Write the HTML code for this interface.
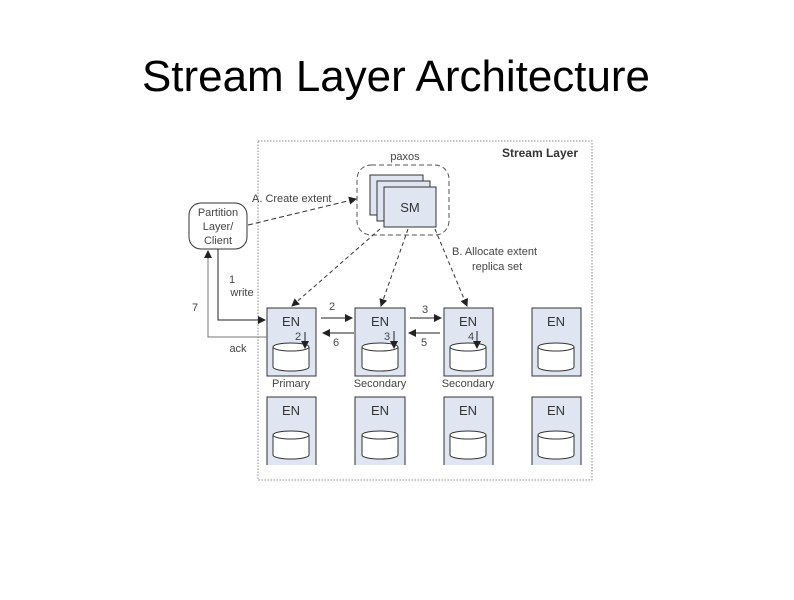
<!DOCTYPE html>
<html><head><style>body{margin:0;background:#fff;width:794px;height:595px;overflow:hidden}</style></head><body>
<svg width="794" height="595" viewBox="0 0 794 595" xmlns="http://www.w3.org/2000/svg" font-family="Liberation Sans, sans-serif">
<defs>
<marker id="a" markerWidth="8" markerHeight="8" refX="7" refY="4" orient="auto" markerUnits="userSpaceOnUse"><path d="M0,0 L8,4 L0,8 z" fill="#222"/></marker>
<g id="cyl"><path d="M-18,-8 v20 a18,4 0 0 0 36,0 v-20" fill="#fff" stroke="#333"/><ellipse cx="0" cy="-8" rx="18" ry="4" fill="#fff" stroke="#333"/></g>
</defs>
<text x="396" y="91" font-size="44" text-anchor="middle" fill="#000" textLength="508" lengthAdjust="spacingAndGlyphs">Stream Layer Architecture</text>
<rect x="258" y="141" width="334" height="339" fill="none" stroke="#888" stroke-dasharray="1.5,1.5"/>
<text x="578" y="157" font-size="12" font-weight="bold" text-anchor="end" fill="#333">Stream Layer</text>
<text x="405" y="160" font-size="11" text-anchor="middle" fill="#444">paxos</text>
<rect x="357" y="165" width="92" height="70" rx="14" fill="none" stroke="#555" stroke-dasharray="5,3"/>
<rect x="370" y="175" width="53" height="40" fill="#dfe6f1" stroke="#333"/>
<rect x="377" y="181" width="53" height="40" fill="#dfe6f1" stroke="#333"/>
<rect x="384" y="187" width="52" height="40" fill="#dfe6f1" stroke="#333"/>
<text x="410" y="212" font-size="13" text-anchor="middle" fill="#333">SM</text>
<rect x="189" y="203" width="58" height="46" rx="12" fill="#fff" stroke="#333"/>
<text x="218" y="216" font-size="11" text-anchor="middle" fill="#444">Partition</text>
<text x="218" y="230" font-size="11" text-anchor="middle" fill="#444">Layer/</text>
<text x="218" y="244" font-size="11" text-anchor="middle" fill="#444">Client</text>
<text x="252" y="202" font-size="11" fill="#444">A. Create extent</text>
<line x1="248" y1="225" x2="356" y2="199" stroke="#333" stroke-dasharray="5,3" marker-end="url(#a)"/>
<text x="452" y="255" font-size="11" fill="#444">B. Allocate extent</text>
<text x="472" y="270" font-size="11" fill="#444">replica set</text>
<line x1="380" y1="229" x2="292" y2="306" stroke="#333" stroke-dasharray="4,3" marker-end="url(#a)"/>
<line x1="408" y1="229" x2="381" y2="306" stroke="#333" stroke-dasharray="4,3" marker-end="url(#a)"/>
<line x1="435" y1="229" x2="467" y2="306" stroke="#333" stroke-dasharray="4,3" marker-end="url(#a)"/>
<g fill="#dfe6f1" stroke="#333">
<rect x="267" y="308" width="49" height="68"/><rect x="355" y="308" width="50" height="68"/><rect x="444" y="308" width="49" height="68"/><rect x="532" y="308" width="49" height="68"/>
<path d="M267,465 V397 H316 V465"/><path d="M355,465 V397 H405 V465"/><path d="M444,465 V397 H493 V465"/><path d="M532,465 V397 H581 V465"/>
</g>
<g font-size="13" text-anchor="middle" fill="#333">
<text x="291" y="326">EN</text><text x="380" y="326">EN</text><text x="468" y="326">EN</text><text x="556" y="326">EN</text>
<text x="291" y="415">EN</text><text x="380" y="415">EN</text><text x="468" y="415">EN</text><text x="556" y="415">EN</text>
</g>
<use href="#cyl" x="291" y="355"/><use href="#cyl" x="380" y="355"/><use href="#cyl" x="468" y="355"/><use href="#cyl" x="556" y="355"/>
<use href="#cyl" x="291" y="443"/><use href="#cyl" x="380" y="443"/><use href="#cyl" x="468" y="443"/><use href="#cyl" x="556" y="443"/>
<g font-size="11" text-anchor="middle" fill="#444">
<text x="291" y="387">Primary</text><text x="380" y="387">Secondary</text><text x="468" y="387">Secondary</text>
<text x="298" y="340">2</text><text x="387" y="340">3</text><text x="471" y="340">4</text>
<text x="332" y="310">2</text><text x="425" y="313">3</text><text x="336" y="346">6</text><text x="424" y="346">5</text>
<text x="232" y="283">1</text><text x="242" y="296">write</text><text x="195" y="311">7</text><text x="238" y="352">ack</text>
</g>
<g stroke="#222" fill="none">
<line x1="305" y1="332" x2="305" y2="348" marker-end="url(#a)"/>
<line x1="394" y1="331" x2="394" y2="348" marker-end="url(#a)"/>
<line x1="477" y1="331" x2="477" y2="348" marker-end="url(#a)"/>
<line x1="321" y1="318" x2="352" y2="318" marker-end="url(#a)"/>
<line x1="410" y1="318" x2="441" y2="318" marker-end="url(#a)"/>
<line x1="354" y1="333" x2="323" y2="333" marker-end="url(#a)"/>
<line x1="440" y1="333" x2="409" y2="333" marker-end="url(#a)"/>
<path d="M218,249 V320 H265" marker-end="url(#a)"/>
<path d="M267,337 H208 V251" stroke="#777" marker-end="url(#a)"/>
</g>
</svg>
</body></html>
